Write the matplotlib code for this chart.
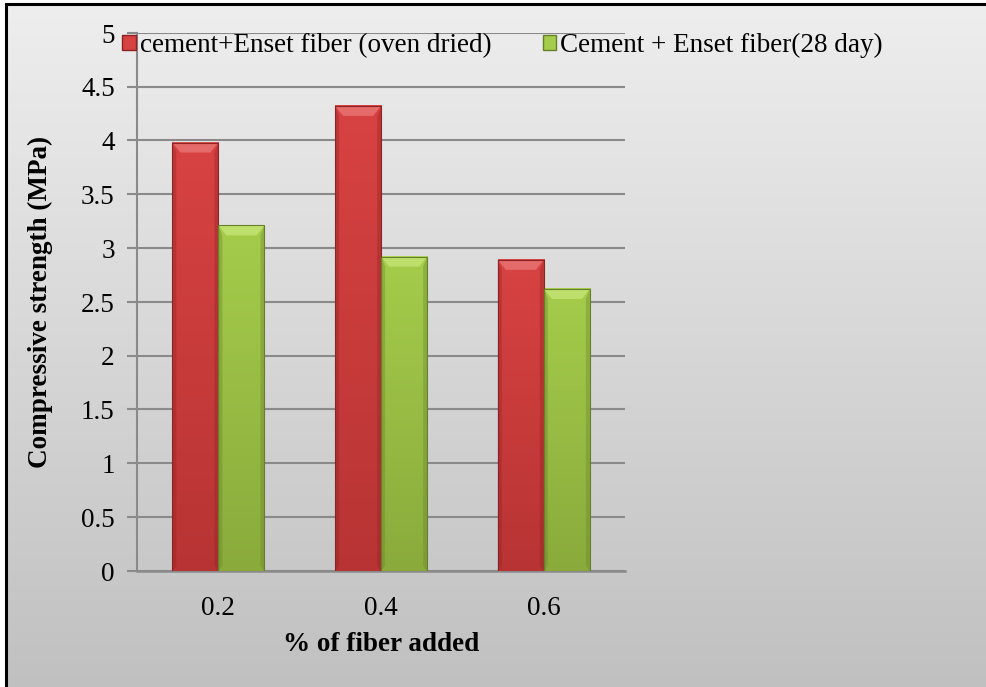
import numpy as np
import matplotlib.pyplot as plt
from matplotlib.patches import Rectangle, Polygon
from matplotlib.colors import LinearSegmentedColormap

plt.rcParams['font.family'] = ['Liberation Serif', 'DejaVu Serif']

categories = ["0.2", "0.4", "0.6"]
oven_dried = [3.98, 4.32, 2.89]
day_28 = [3.21, 2.92, 2.62]
series_names = ["cement+Enset fiber (oven dried)", "Cement + Enset fiber(28 day)"]

W, H, DPI = 986, 687, 100
# small offset so the pixel size is not floored to 985
fig = plt.figure(figsize=((W + 0.3) / DPI, (H + 0.3) / DPI), dpi=DPI)

# chart area background: grey vertical gradient, black frame on top and left
bg = fig.add_axes([0, 0, 1, 1], zorder=-10)
grad = np.linspace(0, 1, 256).reshape(-1, 1)
bg.imshow(grad, cmap=LinearSegmentedColormap.from_list("bg", ["#eeeeee", "#c0c0c0"]),
          extent=[6, W + 5, H + 5, 4], aspect="auto", interpolation="bilinear")
bg.plot([6, 6, W + 5], [H + 5, 4, 4], color="black", lw=2.2, solid_joinstyle="miter")
bg.set_xlim(0, W)
bg.set_ylim(H, 0)
bg.axis("off")

ax = fig.add_axes([137 / W, 1 - 571 / H, (625 - 137) / W, (571 - 33) / H])
ax.patch.set_alpha(0)

x = np.arange(len(categories))
bw = 0.283

# bevel size in data units (about 8 px wide, 10 px tall)
px_x = len(categories) / (625 - 137)
px_y = 5 / (571 - 33)
bx, by = 8 * px_x, 10 * px_y


def bevel_bar(xc, h, base, light, dark, edge):
    x0, x1 = xc - bw / 2, xc + bw / 2
    cmap = LinearSegmentedColormap.from_list("b", [base, dark])
    g = np.linspace(0, 1, 64).reshape(-1, 1)
    ax.imshow(g, cmap=cmap, extent=[x0, x1, 0, h], aspect="auto", zorder=3)
    ax.add_patch(Polygon([(x0, h), (x1, h), (x1 - bx, h - by), (x0 + bx, h - by)],
                         closed=True, fc=light, ec="none", zorder=4))
    ax.add_patch(Polygon([(x0, 0), (x0, h), (x0 + bx * 0.5, h - by), (x0 + bx * 0.5, by * 0.5)],
                         closed=True, fc=edge, ec="none", alpha=0.35, zorder=4))
    ax.add_patch(Polygon([(x1, 0), (x1, h), (x1 - bx * 0.5, h - by), (x1 - bx * 0.5, by * 0.5)],
                         closed=True, fc=edge, ec="none", alpha=0.35, zorder=4))
    ax.add_patch(Rectangle((x0, 0), bw, h, fill=False, ec=edge, lw=0.8, zorder=5))


for i in range(len(categories)):
    bevel_bar(x[i] - bw / 2, oven_dried[i], "#d84242", "#e56a6a", "#b83434", "#8c2222")
    bevel_bar(x[i] + bw / 2, day_28[i], "#a5cc4b", "#bedf6c", "#8aab3c", "#66802a")

ax.set_xlim(-0.5, len(categories) - 0.5)
ax.set_ylim(0, 5)
ax.set_aspect("auto")
ax.set_yticks(np.arange(0, 5.01, 0.5))
ax.set_yticklabels(["0", "0.5", "1", "1.5", "2", "2.5", "3", "3.5", "4", "4.5", "5"])
ax.set_xticks(x)
ax.set_xticklabels(categories)
ax.yaxis.grid(True, color="#8a8a8a", lw=1.5, zorder=1)
ax.set_axisbelow(True)
for s in ["top", "right"]:
    ax.spines[s].set_visible(False)
ax.spines["left"].set_color("#8a8a8a")
ax.spines["left"].set_linewidth(1.5)
ax.spines["bottom"].set_color("#8a8a8a")
ax.spines["bottom"].set_linewidth(1.8)
ax.tick_params(axis="y", length=7, color="#8a8a8a", width=1.5, labelsize=19.5, pad=9)
ax.tick_params(axis="x", length=0, labelsize=19.5, pad=18)

ax.set_ylabel("Compressive strength (MPa)", fontsize=19.5, fontweight="bold", labelpad=20)
ax.set_xlabel("% of fiber added", fontsize=19.5, fontweight="bold", labelpad=8)

handles = [Rectangle((0, 0), 1, 1, fc="#d84242", ec="#8c2222"),
           Rectangle((0, 0), 1, 1, fc="#a5cc4b", ec="#66802a")]
fig.legend(handles, series_names, loc="upper left", bbox_to_anchor=(122 / W, 1 - 33 / H),
           ncol=2, frameon=False, fontsize=19.5, handlelength=0.5, handleheight=0.5,
           handletextpad=0.15, columnspacing=1.9, borderaxespad=0, borderpad=0)

fig.savefig("out.png", dpi=DPI)
